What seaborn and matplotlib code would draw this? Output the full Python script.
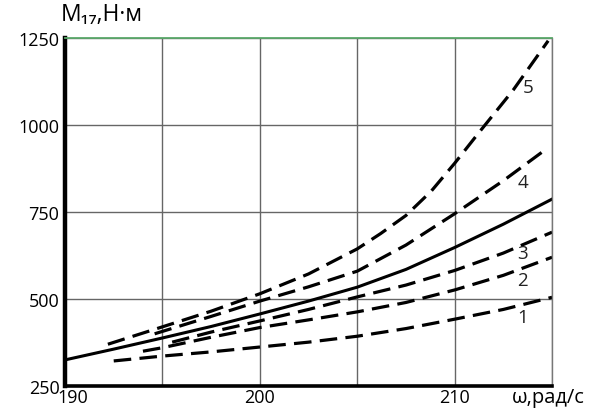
import numpy as np
import pandas as pd
import seaborn as sns
import matplotlib.pyplot as plt
from matplotlib.transforms import ScaledTranslation

# curve data (omega, rad/s -> M17, N*m)
w1 = [192.5, 195, 197.5, 200, 202.5, 205, 207.5, 210, 212.5, 215]
m1 = [322, 336, 348, 362, 376, 393, 415, 442, 470, 505]

w2 = [194, 195, 197.5, 200, 202.5, 205, 207.5, 210, 212.5, 215]
m2 = [350, 360, 390, 418, 440, 463, 490, 526, 568, 620]

w3 = [195.5, 197.5, 200, 202.5, 205, 207.5, 210, 212.5, 215]
m3 = [376, 405, 437, 470, 506, 540, 582, 632, 692]

w_solid = [190, 192.5, 195, 197.5, 200, 202.5, 205, 207.5, 210, 212.5, 215]
m_solid = [325, 356, 388, 421, 457, 494, 534, 585, 648, 715, 787]

w4 = [194.6, 197.5, 200, 202.5, 205, 207.5, 210, 212.5, 214.8]
m4 = [400, 450, 494, 535, 580, 655, 745, 840, 935]

w5 = [192.2, 195, 197.5, 200, 202.5, 205, 206.2, 207.5, 208.8, 210, 211.2, 213, 214.8]
m5 = [370, 420, 465, 515, 572, 644, 688, 740, 810, 890, 975, 1100, 1242]

curve_labels = ['1', '2', '3', '4', '5']
label_pos = [(213.5, 448), (213.5, 555), (213.5, 632), (213.5, 836), (213.75, 1109)]

plt.rcParams['font.family'] = ['Open Sans', 'DejaVu Sans']

fig = plt.figure(figsize=(6.06, 4.10), dpi=100)
ax = fig.add_axes([0.1073, 0.0561, 0.8037, 0.8488])

dash = (0, (5.5, 2.6))
for w, m in [(w1, m1), (w2, m2), (w3, m3), (w4, m4), (w5, m5)]:
    sns.lineplot(x=w, y=m, ax=ax, color='black', linewidth=2.3, linestyle=dash)
sns.lineplot(x=w_solid, y=m_solid, ax=ax, color='black', linewidth=2.2)

for lab, (x, y) in zip(curve_labels, label_pos):
    ax.text(x, y, lab, fontsize=13.5, color='#222222', ha='center', va='center')

ax.set_xlim(190, 215)
ax.set_ylim(250, 1250)
ax.set_xticks([190, 195, 200, 205, 210, 215])
ax.set_xticklabels(['190', '', '200', '', '210', ''])
ax.set_yticks([250, 500, 750, 1000, 1250])
ax.tick_params(length=0, labelsize=13)
ax.tick_params(axis='x', pad=1.5)
ax.tick_params(axis='y', pad=4)
# the first x label sits a little to the right in the original
ax.get_xticklabels()[0].set_transform(
    ax.get_xticklabels()[0].get_transform() + ScaledTranslation(0.08, 0, fig.dpi_scale_trans))
ax.grid(True, color='#666666', linewidth=1)
ax.set_axisbelow(True)

ax.spines['left'].set_linewidth(3.2)
ax.spines['bottom'].set_linewidth(2.6)
ax.spines['top'].set_color('#5aa86a')
ax.spines['top'].set_linewidth(1.3)
ax.spines['right'].set_color('#777777')
ax.spines['right'].set_linewidth(1)

fig.text(0.100, 0.935, 'M₁₇,Н·м', fontsize=16.5, ha='left', va='bottom')
fig.text(0.845, 0.030, 'ω,рад/с', fontsize=14.5, ha='left', va='center')

fig.savefig('out.png', dpi=100)
